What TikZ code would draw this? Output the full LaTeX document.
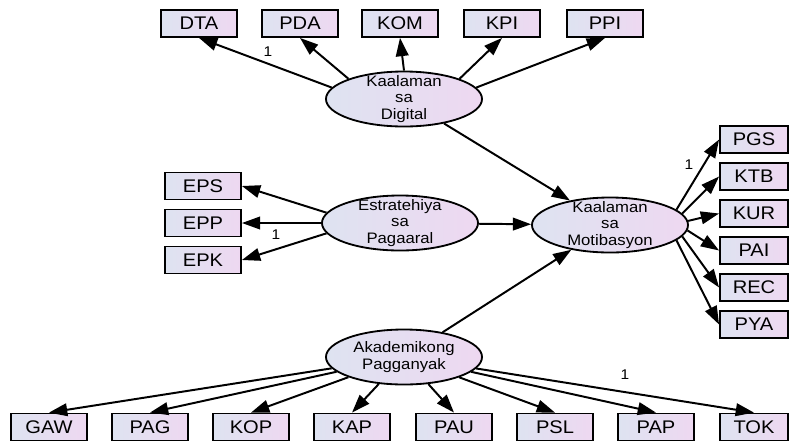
\documentclass[tikz,border=0pt]{standalone}
\usepackage{fontspec}
\newfontfamily\amosfont[FakeStretch=1.1]{Liberation Sans}
\usetikzlibrary{shapes.geometric,arrows.meta}
\definecolor{boxleft}{RGB}{222,227,241}
\definecolor{boxright}{RGB}{238,216,241}

\begin{document}
\begin{tikzpicture}[x=0.025cm,y=-0.025cm,
	obs/.style={draw,line width=1.3pt,left color=boxleft,right color=boxright,minimum width=1.9cm,minimum height=0.675cm,inner sep=0pt,font=\amosfont\fontsize{13}{15}\selectfont},
	obsright/.style={obs,minimum width=1.7cm},
	lat/.style={draw,ellipse,line width=1.3pt,left color=boxleft,right color=boxright,minimum width=3.9cm,minimum height=1.375cm,inner xsep=0pt,inner ysep=-6pt,align=center,font=\amosfont\fontsize{10.8}{11.8}\selectfont},
	reg/.style={-{Triangle[length=13pt,width=9pt]},line width=1.4pt},
	one/.style={font=\amosfont\fontsize{10}{12}\selectfont}]
	\useasboundingbox (0,0) rectangle (790,443);

	% latent variables
	\node[lat] (KaalamanDigital) at (404,99) {Kaalaman\\sa\\Digital};
	\node[lat] (Estratehiya) at (400,223) {Estratehiya\\sa\\Pagaaral};
	\node[lat] (KaalamanMotibasyon) at (610,225) {Kaalaman\\sa\\Motibasyon};
	\node[lat] (Akademikong) at (404,357) {Akademikong\\Pagganyak};

	% top row
	\node[obs] (DTA) at (199,23.5) {DTA};
	\node[obs] (PDA) at (300,23.5) {PDA};
	\node[obs] (KOM) at (400,23.5) {KOM};
	\node[obs] (KPI) at (502,23.5) {KPI};
	\node[obs] (PPI) at (605,23.5) {PPI};

	% left column
	\node[obs] (EPS) at (203,186) {EPS};
	\node[obs] (EPP) at (203,223) {EPP};
	\node[obs] (EPK) at (203,260) {EPK};

	% right column
	\node[obsright] (PGS) at (754,139.5) {PGS};
	\node[obsright] (KTB) at (754,176.5) {KTB};
	\node[obsright] (KUR) at (754,213.5) {KUR};
	\node[obsright] (PAI) at (754,250.5) {PAI};
	\node[obsright] (REC) at (754,287.5) {REC};
	\node[obsright] (PYA) at (754,324.5) {PYA};

	% bottom row
	\node[obs] (GAW) at (49,427) {GAW};
	\node[obs] (PAG) at (150,427) {PAG};
	\node[obs] (KOP) at (251,427) {KOP};
	\node[obs] (KAP) at (352,427) {KAP};
	\node[obs] (PAU) at (454,427) {PAU};
	\node[obs] (PSL) at (555,427) {PSL};
	\node[obs] (PAP) at (656,427) {PAP};
	\node[obsright] (TOK) at (754,427) {TOK};

	\draw[reg] (KaalamanDigital.171) to (DTA.south);
	\draw[reg] (KaalamanDigital.160) to (PDA.south);
	\draw[reg] (KaalamanDigital.north) to (KOM.south);
	\draw[reg] (KaalamanDigital.20) to (KPI.south);
	\draw[reg] (KaalamanDigital.9) to (PPI.south);
	\draw[reg] (KaalamanDigital) to (KaalamanMotibasyon);

	\draw[reg] (Estratehiya.172) to (EPS.east);
	\draw[reg] (Estratehiya.west) to (EPP.east);
	\draw[reg] (Estratehiya.188) to (EPK.east);
	\draw[reg] (Estratehiya) to (KaalamanMotibasyon);

	\draw[reg] (KaalamanMotibasyon.13) to (PGS.west);
	\draw[reg] (KaalamanMotibasyon.9) to (KTB.west);
	\draw[reg] (KaalamanMotibasyon.3) to (KUR.west);
	\draw[reg] (KaalamanMotibasyon.-4) to (PAI.west);
	\draw[reg] (KaalamanMotibasyon.-9) to (REC.west);
	\draw[reg] (KaalamanMotibasyon.-13) to (PYA.west);

	\draw[reg] (Akademikong) to (KaalamanMotibasyon);
	\draw[reg] (Akademikong) to (GAW.north);
	\draw[reg] (Akademikong) to (PAG.north);
	\draw[reg] (Akademikong) to (KOP.north);
	\draw[reg] (Akademikong) to (KAP.north);
	\draw[reg] (Akademikong) to (PAU.north);
	\draw[reg] (Akademikong) to (PSL.north);
	\draw[reg] (Akademikong) to (PAP.north);
	\draw[reg] (Akademikong) to (TOK.north);

	% fixed loadings
	\node[one] (OneDTA) at (268,52) {1};
	\node[one] (OneEPP) at (276,235) {1};
	\node[one] (OnePGS) at (689,165) {1};
	\node[one] (OneTOK) at (625,375) {1};
\end{tikzpicture}
\end{document}
